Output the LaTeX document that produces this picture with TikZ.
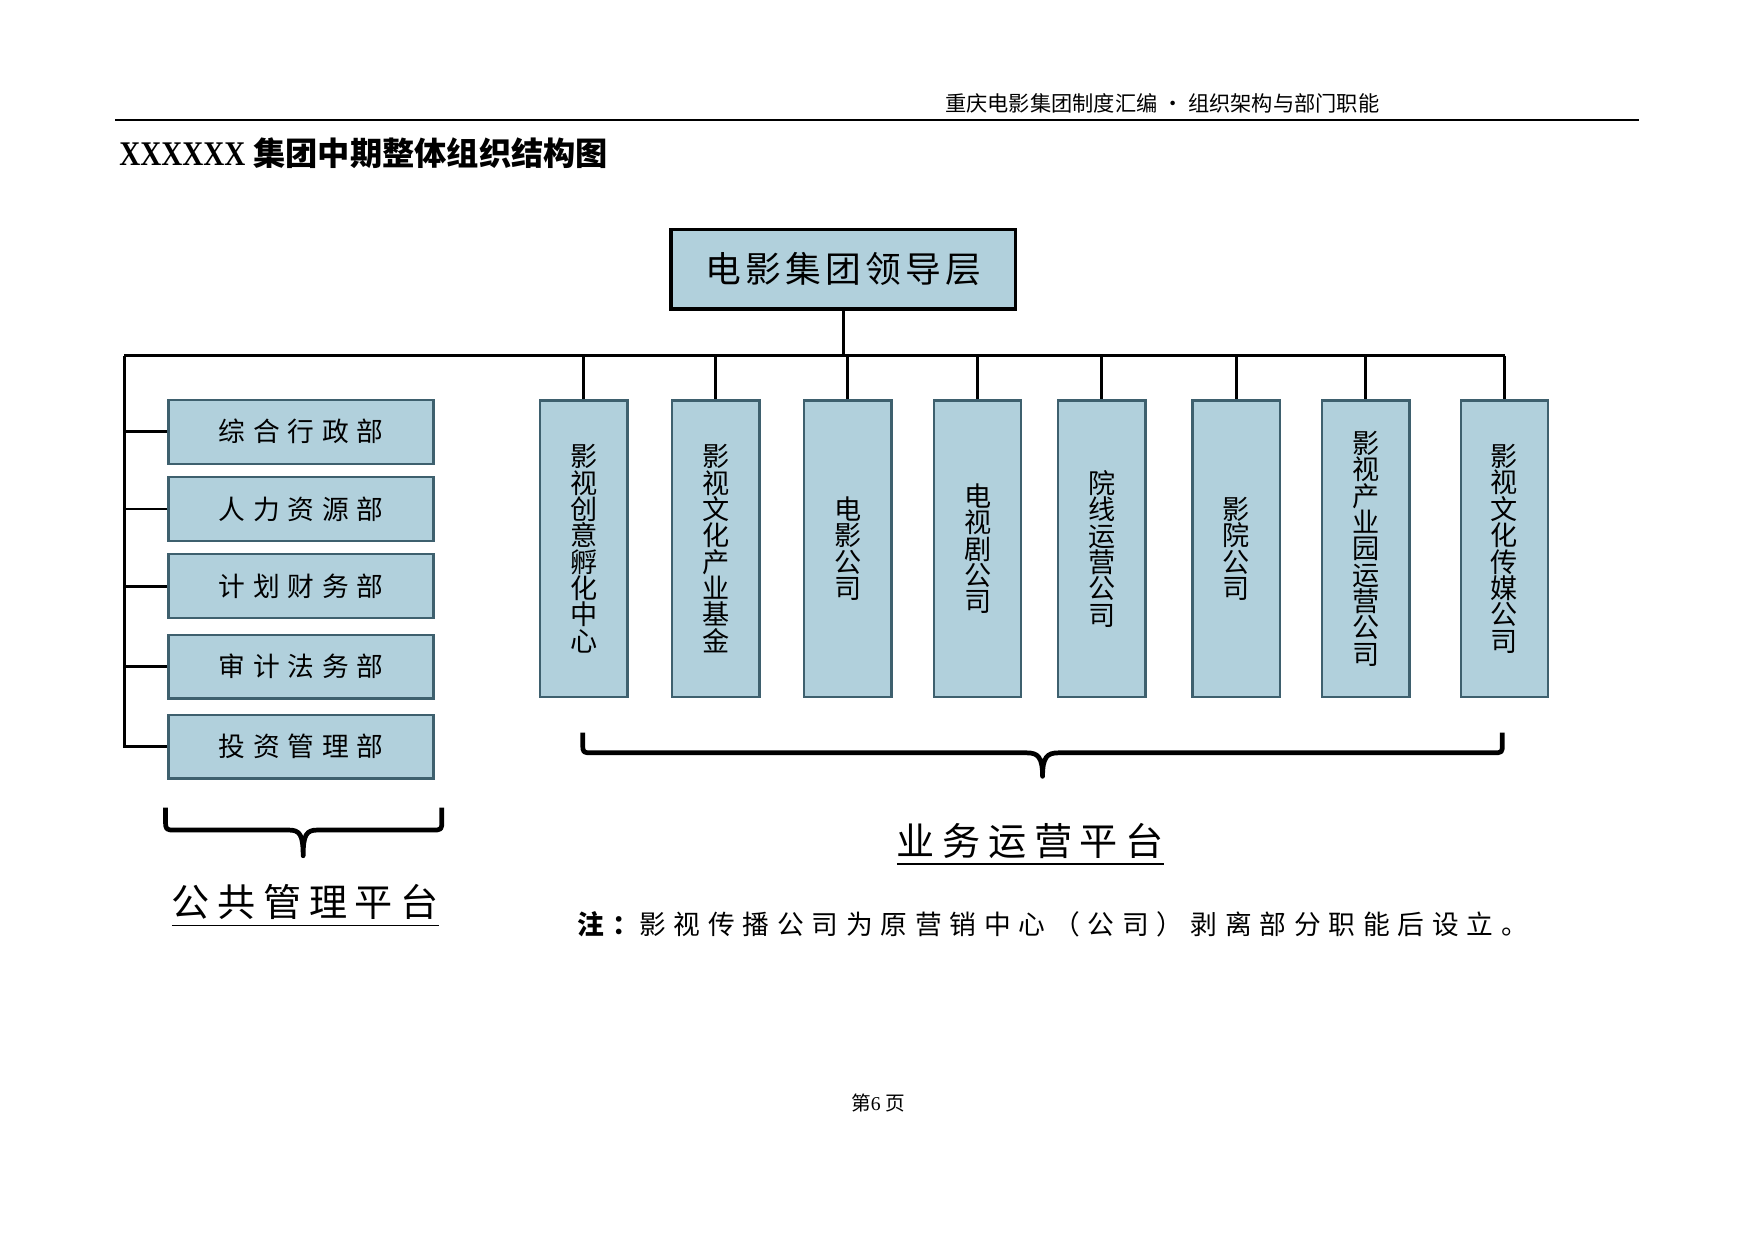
\documentclass[tikz,border=0pt]{standalone}
\usepackage{fontspec}
\setmainfont{Liberation Serif}
\newfontfamily\titlefont{Liberation Serif}[FakeStretch=0.84]
\newfontfamily\cjk{Noto Sans CJK SC}
\newfontfamily\cjknarrow{Noto Sans CJK SC}[LetterSpace=12]
\newfontfamily\cjkwide{Noto Sans CJK SC}[LetterSpace=20]
\newfontfamily\cjkwider{Noto Sans CJK SC}[LetterSpace=29]
\usepackage{tikz}
\usepackage{xcolor}
\definecolor{ColFill}{RGB}{177,208,220}
\definecolor{ColLine}{RGB}{62,96,110}
\tikzstyle{BoxLead}=[draw=black,fill=ColFill,line width=0.9pt,minimum width=30.8mm,
minimum height=7.1mm,inner sep=0pt,font=\cjknarrow\fontsize{9.1pt}{9.1pt}\selectfont]
\tikzstyle{BoxDept}=[draw=ColLine,fill=ColFill,line width=0.6pt,minimum width=23.7mm,
minimum height=5.7mm,inner sep=0pt,font=\cjkwider\fontsize{6.8pt}{6.8pt}\selectfont]
\tikzstyle{BoxUnit}=[draw=ColLine,fill=ColFill,line width=0.6pt,minimum width=7.8mm,
minimum height=26.5mm,inner sep=0pt,align=center,font=\cjk\fontsize{6.9pt}{6.7pt}\selectfont]
\tikzstyle{EdgeOrg}=[black,line width=0.75pt]
\tikzstyle{BraceOrg}=[black,line width=1.2pt,line join=round]
\tikzstyle{TextPlatform}=[inner sep=0pt,font=\cjkwide\fontsize{9.7pt}{9.7pt}\selectfont]

\begin{document}
\begin{tikzpicture}[x=0.1mm,y=-0.1mm]
    \useasboundingbox(0,0)rectangle(1568,1109);
    % page head
    \node[font=\cjk\fontsize{5.4pt}{5.4pt}\selectfont](head)at(1039,92){重庆电影集团制度汇编 · 组织架构与部门职能};
    \coordinate(ruleL)at(103,107);
    \coordinate(ruleR)at(1465,107);
    \draw[black,line width=0.6pt](ruleL)--(ruleR);
    \node[anchor=west,inner sep=0pt,font=\bfseries\fontsize{8.2pt}{8.2pt}\selectfont](title)at(106,137){{\titlefont\bfseries\fontsize{8.8pt}{8.8pt}\selectfont XXXXXX} {\cjk\bfseries 集团中期整体组织结构图}};
    % leadership
    \node[BoxLead](lead)at(754,240.5){电影集团领导层};
    % public management platform
    \node[BoxDept](d1)at(269,386){综合行政部};
    \node[BoxDept](d2)at(269,455){人力资源部};
    \node[BoxDept](d3)at(269,524){计划财务部};
    \node[BoxDept](d4)at(269,596){审计法务部};
    \node[BoxDept](d5)at(269,667.5){投资管理部};
    % business platform
    \node[BoxUnit](u1)at(522,490.5){影\\视\\创\\意\\孵\\化\\中\\心};
    \node[BoxUnit](u2)at(640,490.5){影\\视\\文\\化\\产\\业\\基\\金};
    \node[BoxUnit](u3)at(758,490.5){电\\影\\公\\司};
    \node[BoxUnit](u4)at(874,490.5){电\\视\\剧\\公\\司};
    \node[BoxUnit](u5)at(985,490.5){院\\线\\运\\营\\公\\司};
    \node[BoxUnit](u6)at(1105,490.5){影\\院\\公\\司};
    \node[BoxUnit](u7)at(1221,490.5){影\\视\\产\\业\\园\\运\\营\\公\\司};
    \node[BoxUnit](u8)at(1345,490.5){影\\视\\文\\化\\传\\媒\\公\\司};
    % connectors
    \coordinate(busL)at(111,318);
    \draw[EdgeOrg](lead.south)--(lead.south|-busL);
    \draw[EdgeOrg](busL)--(u8.north|-busL);
    \draw[EdgeOrg](u1.north|-busL)--(u1.north);
    \draw[EdgeOrg](u2.north|-busL)--(u2.north);
    \draw[EdgeOrg](u3.north|-busL)--(u3.north);
    \draw[EdgeOrg](u4.north|-busL)--(u4.north);
    \draw[EdgeOrg](u5.north|-busL)--(u5.north);
    \draw[EdgeOrg](u6.north|-busL)--(u6.north);
    \draw[EdgeOrg](u7.north|-busL)--(u7.north);
    \draw[EdgeOrg](u8.north|-busL)--(u8.north);
    \draw[EdgeOrg](busL)--(busL|-d5.west)--(d5.west);
    \draw[EdgeOrg](busL|-d1.west)--(d1.west);
    \draw[EdgeOrg](busL|-d2.west)--(d2.west);
    \draw[EdgeOrg](busL|-d3.west)--(d3.west);
    \draw[EdgeOrg](busL|-d4.west)--(d4.west);
    % braces
    \draw[BraceOrg](148,722)--(148,733)..controls(148,742)..(157,742)--(258,742)
        ..controls(268,742)and(271,746)..(271,765)..controls(271,746)and(274,742)..(284,742)
        --(386,742)..controls(395,742)..(395,733)--(395,722);
    \draw[BraceOrg](521,655)--(521,665)..controls(521,673)..(530,673)--(918,673)
        ..controls(928,673)and(932,677)..(932,694)..controls(932,677)and(936,673)..(946,673)
        --(1334,673)..controls(1343,673)..(1343,665)--(1343,655);
    % platform names and note
    \node[TextPlatform](pubPl)at(273,810){\underline{公共管理平台}};
    \node[TextPlatform](busPl)at(921,755){\underline{业务运营平台}};
    \node[anchor=west,inner sep=0pt,font=\cjkwider\fontsize{6.8pt}{6.8pt}\selectfont](note)at(516,826){{\bfseries 注：}影视传播公司为原营销中心（公司）剥离部分职能后设立。};
    % page foot
    \node[font=\fontsize{5pt}{5pt}\selectfont](foot)at(785,986){{\cjk 第}6 {\cjk 页}};
\end{tikzpicture}
\end{document}
